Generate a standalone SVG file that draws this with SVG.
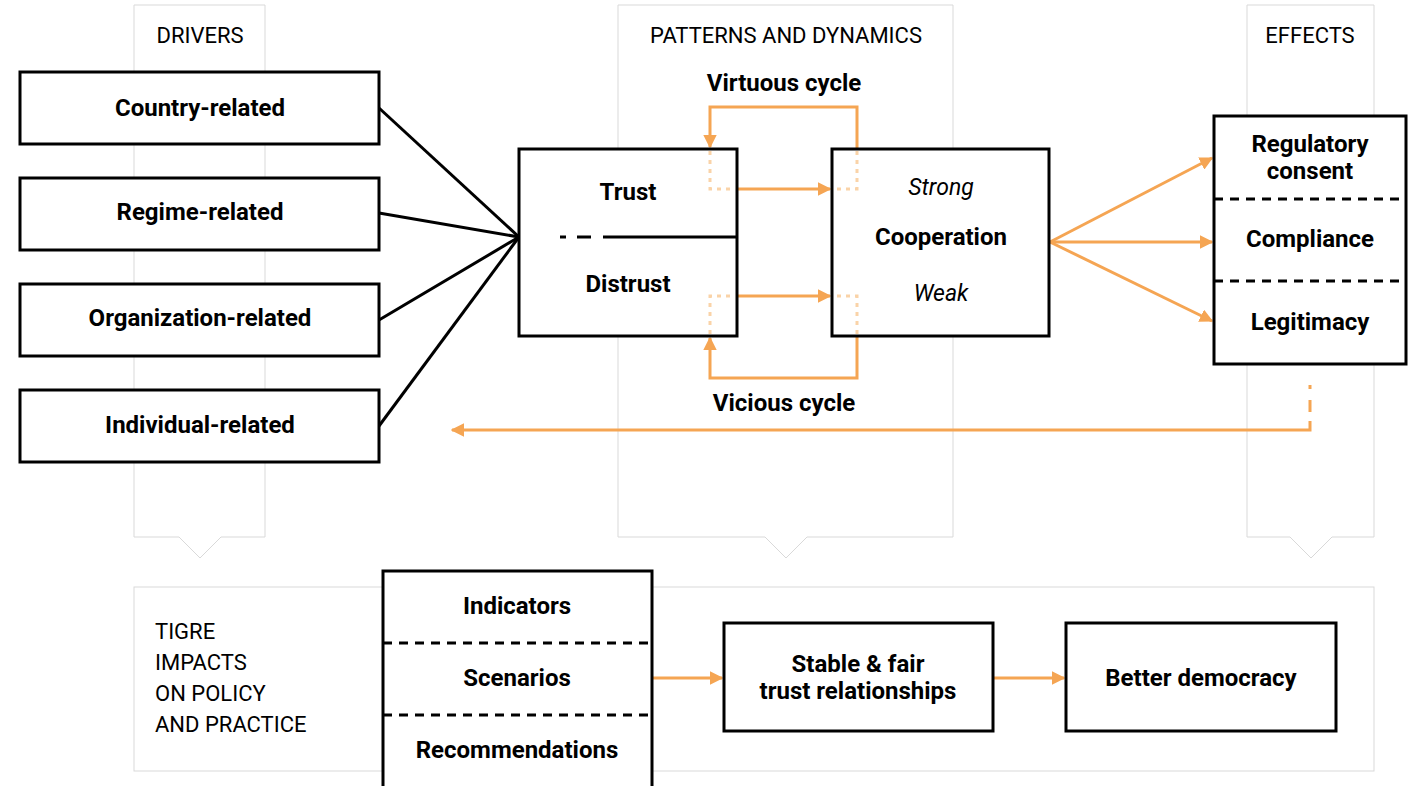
<svg xmlns="http://www.w3.org/2000/svg" width="1408" height="786" viewBox="0 0 1408 786">
<defs>
<style>
.panel{fill:#fff;stroke:#d9d9d9;stroke-width:1}
.box{fill:#fff;stroke:#000;stroke-width:3}
.b{font-family:Roboto,"Liberation Sans",sans-serif;font-weight:bold;font-size:24px;fill:#000;text-anchor:middle;dominant-baseline:central}
.i{font-family:Roboto,"Liberation Sans",sans-serif;font-style:italic;font-size:23px;fill:#000;text-anchor:middle;dominant-baseline:central}
.h{font-family:Roboto,"Liberation Sans",sans-serif;font-size:22px;fill:#000;text-anchor:middle;dominant-baseline:central}
.hl{font-family:Roboto,"Liberation Sans",sans-serif;font-size:22px;fill:#000;text-anchor:start;dominant-baseline:central}
.blk{stroke:#000;stroke-width:3;fill:none}
.dash{stroke:#000;stroke-width:3;stroke-dasharray:9 7;fill:none}
.or{stroke:#F5A553;stroke-width:3;fill:none}
.dot{stroke:#FAD3A8;stroke-width:3;stroke-dasharray:4 5;fill:none}
</style>
<marker id="ah" viewBox="0 0 10 10" refX="9" refY="5" markerWidth="4.5" markerHeight="4.5" orient="auto" markerUnits="strokeWidth">
<path d="M0,0 L10,5 L0,10 z" fill="#F5A553"/>
</marker>
</defs>
<rect width="1408" height="786" fill="#fff"/>

<g id="panels">
<path class="panel" d="M134,5 H265 V537 H221 L200,558 L179,537 H134 Z"/>
<path class="panel" d="M618,5 H953 V537 H807 L786,558 L765,537 H618 Z"/>
<path class="panel" d="M1247,5 H1374 V537 H1332 L1311,558 L1290,537 H1247 Z"/>
<rect class="panel" x="134" y="587" width="1240" height="184"/>
<text class="h" x="200" y="35">DRIVERS</text>
<text class="h" x="786" y="35">PATTERNS AND DYNAMICS</text>
<text class="h" x="1310" y="35">EFFECTS</text>
<text class="hl" x="155" y="631">TIGRE</text>
<text class="hl" x="155" y="662">IMPACTS</text>
<text class="hl" x="155" y="693">ON POLICY</text>
<text class="hl" x="155" y="724">AND PRACTICE</text>
</g>

<g id="connectors">
<line class="blk" x1="379" y1="108" x2="519" y2="237"/>
<line class="blk" x1="379" y1="213" x2="519" y2="237"/>
<line class="blk" x1="379" y1="320" x2="519" y2="237"/>
<line class="blk" x1="379" y1="426" x2="519" y2="237"/>
<line class="or" x1="737" y1="189" x2="830" y2="189" marker-end="url(#ah)"/>
<line class="or" x1="737" y1="296" x2="830" y2="296" marker-end="url(#ah)"/>
<path class="or" d="M857,149 V107 H710 V147" marker-end="url(#ah)"/>
<path class="or" d="M857,336 V378 H710 V338" marker-end="url(#ah)"/>
<line class="or" x1="1050" y1="242" x2="1212" y2="158" marker-end="url(#ah)"/>
<line class="or" x1="1050" y1="242" x2="1212" y2="242" marker-end="url(#ah)"/>
<line class="or" x1="1050" y1="242" x2="1212" y2="321" marker-end="url(#ah)"/>
<path class="or" d="M1310,385 V389 M1310,400 V412 M1310,421 V430 H452" marker-end="url(#ah)"/>
<line class="or" x1="652" y1="678" x2="722" y2="678" marker-end="url(#ah)"/>
<line class="or" x1="993" y1="678" x2="1064" y2="678" marker-end="url(#ah)"/>
</g>

<g id="driver-country"><rect class="box" x="20" y="72" width="359" height="72"/><text class="b" x="200" y="108">Country-related</text></g>
<g id="driver-regime"><rect class="box" x="20" y="178" width="359" height="72"/><text class="b" x="200" y="212">Regime-related</text></g>
<g id="driver-organization"><rect class="box" x="20" y="284" width="359" height="72"/><text class="b" x="200" y="318">Organization-related</text></g>
<g id="driver-individual"><rect class="box" x="20" y="390" width="359" height="72"/><text class="b" x="200" y="425">Individual-related</text></g>

<g id="trust">
<rect class="box" x="519" y="149" width="218" height="187"/>
<path class="dot" d="M710,151 V189 H735"/>
<path class="dot" d="M710,334 V296 H735"/>
<path class="blk" d="M560,237 H566 M577,237 H591 M603,237 H737"/>
<text class="b" x="628" y="192">Trust</text>
<text class="b" x="628" y="284">Distrust</text>
</g>

<g id="cooperation">
<rect class="box" x="832" y="149" width="217" height="187"/>
<path class="dot" d="M857,151 V189 H834"/>
<path class="dot" d="M857,334 V296 H834"/>
<text class="i" x="941" y="187">Strong</text>
<text class="b" x="941" y="237">Cooperation</text>
<text class="i" x="941" y="293">Weak</text>
</g>

<g id="cycle-labels">
<text class="b" x="784" y="83">Virtuous cycle</text>
<text class="b" x="784" y="403">Vicious cycle</text>
</g>

<g id="effects">
<rect class="box" x="1214" y="116" width="192" height="248"/>
<line class="dash" x1="1214" y1="199" x2="1406" y2="199"/>
<line class="dash" x1="1214" y1="281" x2="1406" y2="281"/>
<text class="b" x="1310" y="144">Regulatory</text>
<text class="b" x="1310" y="171">consent</text>
<text class="b" x="1310" y="239">Compliance</text>
<text class="b" x="1310" y="322">Legitimacy</text>
</g>

<g id="tools">
<rect class="box" x="383" y="571" width="269" height="230"/>
<line class="dash" x1="383" y1="643" x2="652" y2="643"/>
<line class="dash" x1="383" y1="715" x2="652" y2="715"/>
<text class="b" x="517" y="606">Indicators</text>
<text class="b" x="517" y="678">Scenarios</text>
<text class="b" x="517" y="750">Recommendations</text>
</g>

<g id="stable">
<rect class="box" x="724" y="623" width="269" height="108"/>
<text class="b" x="858" y="664">Stable &amp; fair</text>
<text class="b" x="858" y="691">trust relationships</text>
</g>

<g id="democracy">
<rect class="box" x="1066" y="623" width="270" height="108"/>
<text class="b" x="1201" y="678">Better democracy</text>
</g>
</svg>
